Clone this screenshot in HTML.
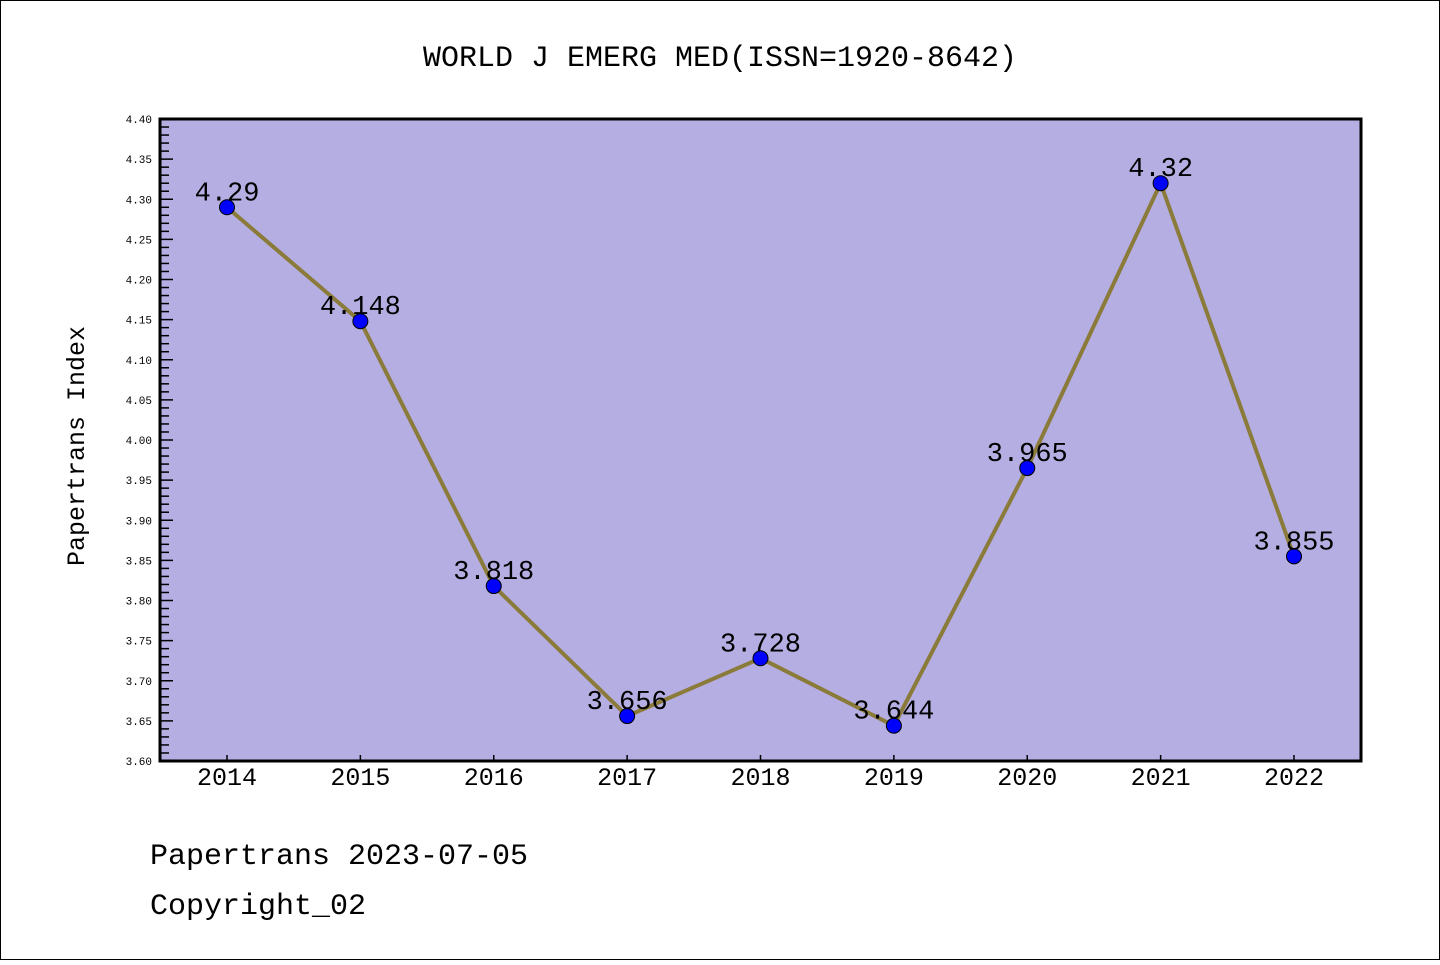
<!DOCTYPE html>
<html><head><meta charset="utf-8"><style>
body{margin:0;background:#fff}
svg text{font-family:"Liberation Mono","WenQuanYi Zen Hei",monospace}
</style></head><body>
<svg width="1440" height="960" xmlns="http://www.w3.org/2000/svg">
<rect x="0.5" y="0.5" width="1439" height="959" fill="#fff" stroke="#000"/>
<text x="720" y="66" font-size="30" text-anchor="middle">WORLD J EMERG MED(ISSN=1920-8642)</text>
<rect x="160" y="119" width="1201" height="642" fill="#b5aee2"/>
<g id="axes"></g>
<g id="series"></g>
<rect x="160" y="119" width="1201" height="642" fill="none" stroke="#000" stroke-width="3"/>
<text transform="translate(84,446) rotate(-90)" font-size="25" text-anchor="middle">Papertrans Index</text>
<text x="150" y="864" font-size="30">Papertrans 2023-07-05</text>
<text x="150" y="914" font-size="30">Copyright_02</text>
</svg>
<script>
const years=["2014","2015","2016","2017","2018","2019","2020","2021","2022"];
const values=[4.29,4.148,3.818,3.656,3.728,3.644,3.965,4.32,3.855];
const valueLabels=["4.29","4.148","3.818","3.656","3.728","3.644","3.965","4.32","3.855"];
const yMin=3.6,yMax=4.4;
const NS="http://www.w3.org/2000/svg";
function xs(i){return 227+i*(1294-227)/(years.length-1);}
function ys(v){return 761-(v-yMin)/(yMax-yMin)*642;}
function mk(t,a,p){const e=document.createElementNS(NS,t);for(const k in a)e.setAttribute(k,a[k]);p.appendChild(e);return e;}
const ax=document.getElementById('axes'),se=document.getElementById('series');
for(let k=0;k<=80;k++){
  const v=yMin+k*0.01,y=ys(v),major=k%5===0;
  const l=mk('line',{x1:160,x2:160+(major?13:9),y1:y,y2:y,stroke:'#000','stroke-width':1.5},ax);
  
  
  if(major){
    const t=mk('text',{x:152,y:y+4,'font-size':11,'text-anchor':'end','font-family':'Liberation Sans, sans-serif'},ax);
    t.textContent=v.toFixed(2);
    
    
  }
}
years.forEach((yr,i)=>{
  const x=xs(i);
  const l=mk('line',{x1:x,x2:x,y1:761,y2:755,stroke:'#000','stroke-width':1.5},ax);
  
  
  const t=mk('text',{x:x,y:785,'font-size':25,'text-anchor':'middle','font-family':'Liberation Sans, sans-serif'},ax);
  t.textContent=yr;
  
  
});
const pts=values.map((v,i)=>xs(i)+','+ys(v)).join(' ');
const pl=mk('polyline',{points:pts,fill:'none',stroke:'#8b7b3a','stroke-width':4},se);


values.forEach((v,i)=>{
  const c=mk('circle',{cx:xs(i),cy:ys(v),r:7.5,fill:'#0000ff',stroke:'#000','stroke-width':1},se);
  
  
  const t=mk('text',{x:xs(i),y:ys(v)-7,'font-size':27,'text-anchor':'middle'},se);
  t.textContent=valueLabels[i];
  
  
});
</script>
</body></html>
